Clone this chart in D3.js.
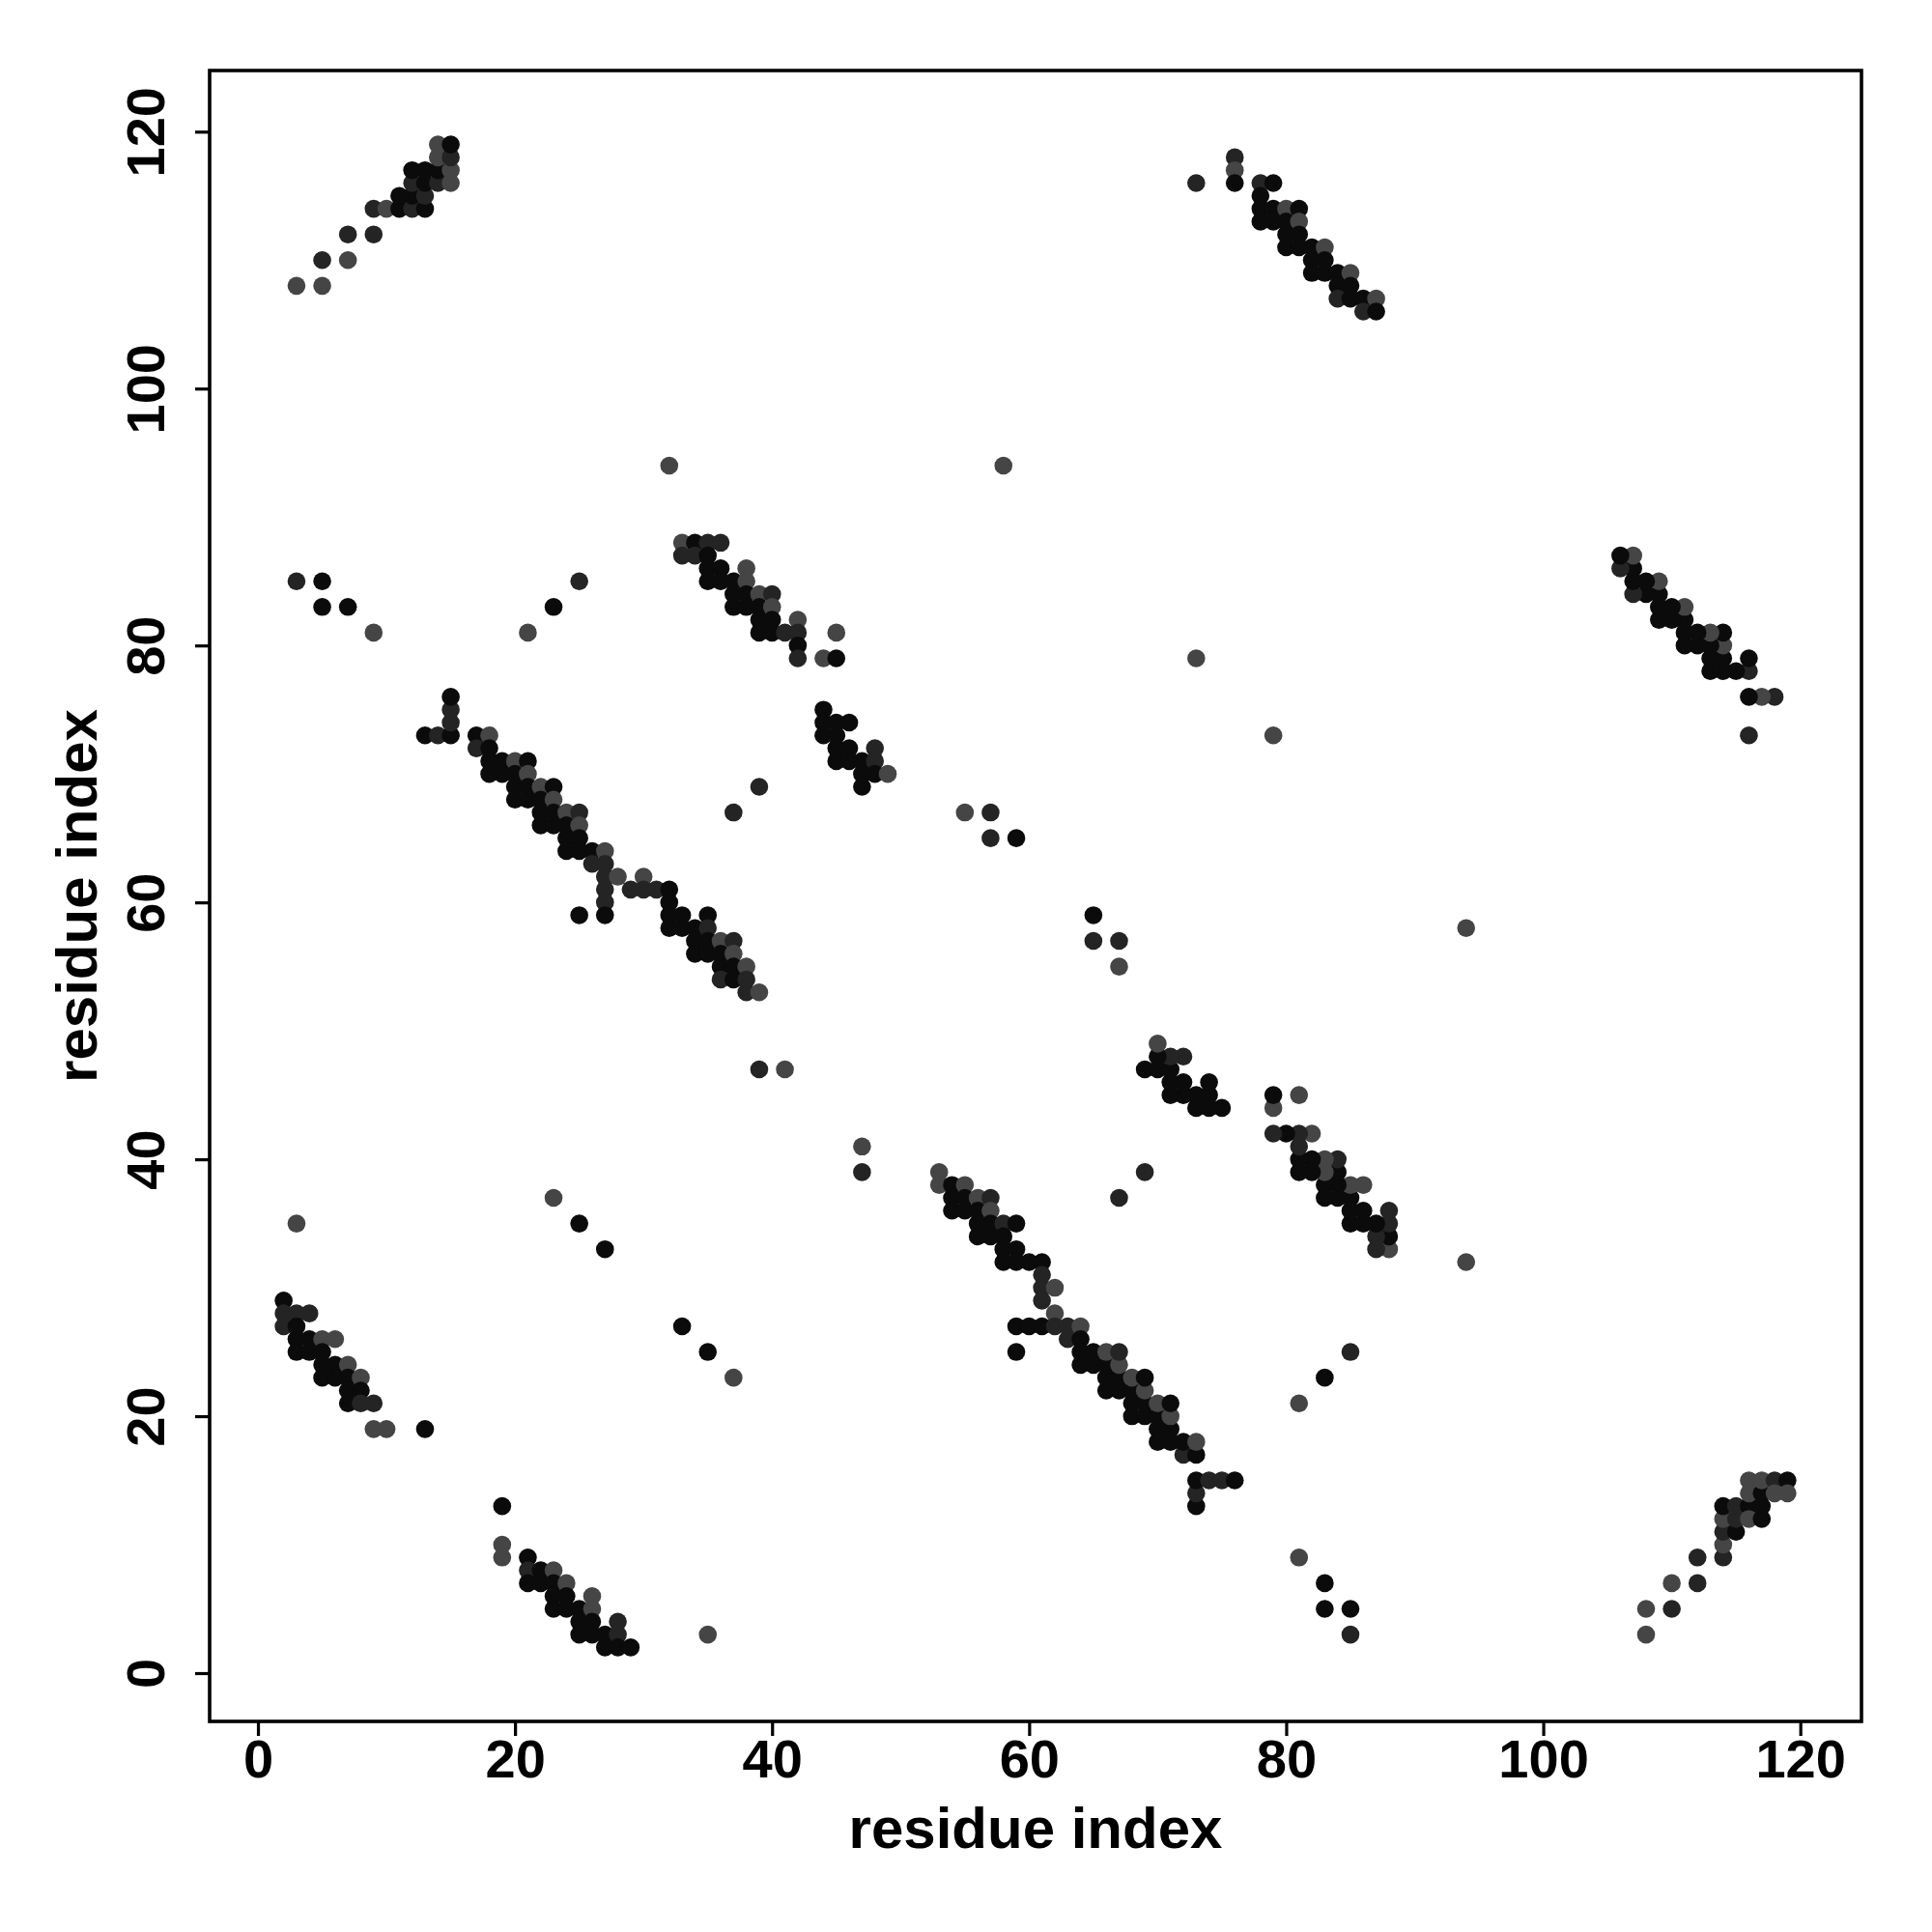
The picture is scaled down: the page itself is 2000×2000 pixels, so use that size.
<!DOCTYPE html>
<html><head><meta charset="utf-8">
<script src="https://cdn.jsdelivr.net/npm/d3@7"></script>
<style>body{margin:0;background:#fff}</style>
</head><body>
<svg id="chart" width="2000" height="2000"></svg>
<script>
// ---- data: [residue i, residue j, shade level 0=black,1=dark,2=grey]
const xTicks = [0, 20, 40, 60, 80, 100, 120];
const yTicks = [0, 20, 40, 60, 80, 100, 120];
const xTitle = "residue index";
const yTitle = "residue index";

const topLeftBlock = [[3,108,2],[5,108,2],[5,110,1],[7,110,2],[7,112,1],[9,112,1],[9,114,1],[10,114,2],[11,114,0],[12,114,1],[13,114,0],[11,115,0],[12,115,0],[13,115,1],[12,116,1],[13,116,0],[14,116,1],[15,116,2],[12,117,0],[13,117,0],[14,117,0],[15,117,2],[14,118,2],[15,118,1],[14,119,2],[15,119,0]];
const bottomRightBlock = [[108,3,2],[108,5,2],[110,5,1],[110,7,2],[112,7,1],[112,9,1],[114,9,1],[114,10,2],[114,11,1],[115,11,0],[114,12,2],[115,12,1],[114,13,0],[115,13,1],[116,13,0],[117,13,0],[116,12,2],[117,12,0],[116,14,2],[117,14,0],[116,15,2],[117,15,2],[118,15,1],[119,15,0],[118,14,2],[119,14,2]];

const topRightBand = [[73,116,1],[76,118,1],[76,117,2],[76,116,0],[78,116,1],[79,116,0],[78,115,0],[78,114,0],[79,114,0],[80,114,2],[81,114,0],[78,113,0],[79,113,0],[80,113,0],[81,113,2],[80,112,0],[81,112,0],[80,111,0],[81,111,0],[82,111,0],[83,111,2],[82,110,0],[83,110,0],[82,109,0],[83,109,0],[84,109,0],[85,109,2],[84,108,0],[85,108,0],[84,107,1],[85,107,0],[86,107,0],[87,107,2],[86,106,1],[87,106,0]];
const rightBand = [[116,73,1],[118,76,1],[117,76,2],[116,76,0],[116,78,1],[116,79,0],[115,78,0],[114,78,0],[114,79,0],[114,80,2],[114,81,0],[113,78,0],[113,79,0],[113,80,0],[113,81,2],[112,80,0],[112,81,0],[111,80,0],[111,81,0],[111,82,0],[111,83,2],[110,82,0],[110,83,0],[109,82,0],[109,83,0],[109,84,0],[109,85,2],[108,84,0],[108,85,0],[107,84,1],[107,85,0],[107,86,0],[107,87,2],[106,86,1],[106,87,0]];

const leftLongBand = [[13,73,0],[14,73,1],[15,73,0],[15,74,1],[15,75,1],[15,76,0],[17,73,0],[18,73,2],[17,72,1],[18,72,0],[18,71,0],[19,71,0],[20,71,2],[21,71,0],[18,70,0],[19,70,0],[20,70,0],[21,70,2],[20,69,0],[21,69,0],[22,69,2],[23,69,0],[20,68,0],[21,68,0],[22,68,0],[23,68,2],[22,67,0],[23,67,0],[24,67,2],[25,67,1],[22,66,0],[23,66,0],[24,66,0],[25,66,2],[24,65,0],[25,65,0],[24,64,0],[25,64,0],[26,64,0],[27,64,2],[26,63,1],[27,63,1],[27,62,1],[28,62,2],[30,62,2],[27,61,1],[29,61,1],[30,61,1],[31,61,1],[32,61,0],[27,60,1],[32,60,0],[25,59,0],[27,59,0],[32,59,0],[33,59,0],[35,59,0],[32,58,0],[33,58,0],[34,58,0],[35,58,1],[34,57,0],[35,57,0],[36,57,2],[37,57,1],[34,56,0],[35,56,0],[36,56,0],[37,56,2],[36,55,0],[37,55,0],[38,55,2],[36,54,1],[37,54,0],[38,54,1],[38,53,1],[39,53,2]];
const centerLongBand = [[53,39,2],[53,38,2],[54,38,0],[55,38,2],[54,37,0],[55,37,0],[56,37,2],[57,37,1],[54,36,0],[55,36,0],[56,36,0],[57,36,2],[56,35,0],[57,35,0],[58,35,1],[59,35,0],[56,34,0],[57,34,0],[58,34,0],[58,33,0],[59,33,0],[58,32,0],[59,32,0],[60,32,0],[61,32,0],[61,31,1],[61,30,1],[62,30,2],[61,29,1],[62,28,2],[59,27,0],[60,27,0],[61,27,0],[62,27,1],[63,27,1],[64,27,2],[59,25,0],[63,26,1],[64,26,0],[64,24,0],[64,25,0],[65,24,0],[65,25,0],[66,22,0],[66,23,0],[66,24,0],[66,25,2],[67,22,0],[67,23,0],[67,24,2],[67,25,1],[68,20,0],[68,21,0],[68,22,0],[68,23,2],[69,20,0],[69,21,0],[69,22,2],[69,23,0],[70,18,0],[70,19,0],[70,20,0],[70,21,2],[71,18,0],[71,19,0],[71,20,2],[71,21,0],[72,17,1],[72,18,0],[73,17,0],[73,18,2],[73,13,0],[73,14,1],[73,15,0],[74,15,1],[75,15,1],[76,15,0]];

const upperMidBand = [[33,88,2],[34,88,0],[35,88,1],[36,88,1],[33,87,1],[34,87,1],[35,87,0],[35,86,0],[36,86,0],[38,86,2],[35,85,0],[36,85,0],[37,85,0],[38,85,2],[37,84,0],[38,84,0],[39,84,2],[40,84,1],[37,83,0],[38,83,0],[39,83,0],[40,83,2],[39,82,0],[40,82,0],[42,82,2],[39,81,0],[40,81,0],[41,81,1],[42,81,1],[42,80,0],[42,79,1],[44,79,2],[45,79,0],[45,81,2]];
const lowerMidBand = [[88,33,2],[88,34,0],[88,35,1],[88,36,1],[87,33,1],[87,34,1],[87,35,0],[86,35,0],[86,36,0],[86,38,2],[85,35,0],[85,36,0],[85,37,0],[85,38,2],[84,37,0],[84,38,0],[84,39,0],[84,40,1],[83,37,0],[83,38,0],[83,39,2],[83,40,2],[82,39,0],[82,40,0],[82,42,2],[81,39,0],[81,40,0],[81,41,1],[81,42,1],[80,42,0],[79,42,1],[79,44,2],[79,45,0],[81,45,2]];

const upperShortBand = [[44,75,0],[44,74,0],[45,74,0],[46,74,0],[44,73,0],[45,73,0],[45,72,0],[46,72,0],[48,72,1],[45,71,0],[46,71,0],[47,71,0],[48,71,1],[47,70,0],[48,70,0],[49,70,2],[47,69,0]];
const lowerShortBand = [[75,44,0],[74,44,0],[74,45,0],[74,46,0],[73,44,0],[73,45,0],[72,45,0],[72,46,0],[72,48,1],[71,45,0],[71,46,0],[71,47,0],[71,48,1],[70,47,0],[70,48,0],[70,49,2],[69,47,0]];

const lowerLeftBand = [[2,29,0],[2,28,1],[3,28,1],[4,28,1],[2,27,1],[3,27,0],[3,26,0],[4,26,0],[5,26,2],[6,26,2],[3,25,0],[4,25,0],[5,25,0],[5,24,0],[6,24,0],[7,24,2],[5,23,0],[6,23,0],[7,23,0],[8,23,2],[7,22,0],[8,22,0],[7,21,0],[8,21,1],[9,21,1],[9,19,2],[10,19,2]];
const bottomBand = [[19,10,2],[19,9,2],[21,9,0],[21,8,1],[22,8,0],[23,8,2],[21,7,0],[22,7,0],[23,7,0],[24,7,2],[23,6,0],[24,6,0],[26,6,2],[23,5,0],[24,5,0],[25,5,0],[26,5,2],[25,4,0],[26,4,0],[28,4,1],[25,3,0],[26,3,0],[27,3,0],[28,3,1],[27,2,0],[28,2,0],[29,2,0]];

const upperIsolated = [[3,85,1],[5,85,0],[5,83,0],[7,83,0],[9,81,2],[21,81,2],[23,83,0],[25,85,1],[32,94,2],[58,94,2],[73,79,2],[37,67,1],[39,69,1],[39,47,1],[41,47,2],[55,67,2],[57,67,1],[57,65,1],[59,65,0],[3,35,2],[13,19,0],[23,37,2],[25,35,0],[27,33,0]];
const lowerIsolated = [[85,3,1],[85,5,0],[83,5,0],[83,7,0],[81,9,2],[81,21,2],[83,23,0],[85,25,1],[94,32,2],[94,58,2],[79,73,2],[67,37,1],[69,39,1],[47,39,1],[47,41,2],[67,55,2],[67,57,1],[65,57,1],[65,59,0],[35,3,2],[19,13,0],[37,23,2],[35,25,0],[33,27,0]];

const shadeColors = ["#0b0b0b", "#242424", "#454545"];

// ---- drawing
const svg = d3.select("#chart");
const plotLeft = 217, plotRight = 1927, plotTop = 73, plotBottom = 1782;
const x = d3.scaleLinear().domain([-3.76, 124.76]).range([plotLeft, plotRight]);
const y = d3.scaleLinear().domain([-3.76, 124.76]).range([plotBottom, plotTop]);
const shade = d3.scaleOrdinal().domain([0, 1, 2]).range(shadeColors);

const allPoints = [].concat(topLeftBlock, bottomRightBlock, topRightBand, rightBand,
  leftLongBand, centerLongBand, upperMidBand, lowerMidBand, upperShortBand, lowerShortBand,
  lowerLeftBand, bottomBand, upperIsolated, lowerIsolated);

svg.append("g").selectAll("circle").data(allPoints).join("circle")
  .attr("cx", d => x(d[0])).attr("cy", d => y(d[1]))
  .attr("r", 9.3).attr("fill", d => shade(d[2]));

const font = "'Liberation Sans', Arial, Helvetica, sans-serif";

const xAxis = svg.append("g").attr("transform", `translate(0,${plotBottom})`)
  .call(d3.axisBottom(x).tickValues(xTicks).tickSize(15).tickFormat(d3.format("d")));
xAxis.select(".domain").remove();
xAxis.selectAll(".tick line").attr("stroke", "#000").attr("stroke-width", 3.2);
xAxis.selectAll(".tick text").attr("y", 58).attr("dy", 0)
  .attr("font-family", font).attr("font-weight", "bold").attr("font-size", 56).attr("fill", "#000");

const yAxis = svg.append("g").attr("transform", `translate(${plotLeft},0)`)
  .call(d3.axisLeft(y).tickValues(yTicks).tickSize(15).tickFormat(d3.format("d")));
yAxis.select(".domain").remove();
yAxis.selectAll(".tick line").attr("stroke", "#000").attr("stroke-width", 3.2);
yAxis.selectAll(".tick text").attr("x", 0).attr("y", -47).attr("dy", 0)
  .attr("text-anchor", "middle").attr("transform", "rotate(-90)")
  .attr("font-family", font).attr("font-weight", "bold").attr("font-size", 56).attr("fill", "#000");

svg.append("rect").attr("x", plotLeft).attr("y", plotTop)
  .attr("width", plotRight - plotLeft).attr("height", plotBottom - plotTop)
  .attr("fill", "none").attr("stroke", "#000").attr("stroke-width", 3.6);

svg.append("text").attr("x", (plotLeft + plotRight) / 2).attr("y", 1913)
  .attr("text-anchor", "middle").attr("font-family", font).attr("font-weight", "bold")
  .attr("font-size", 60).text(xTitle);
svg.append("text").attr("transform", `translate(100,${(plotTop + plotBottom) / 2}) rotate(-90)`)
  .attr("text-anchor", "middle").attr("font-family", font).attr("font-weight", "bold")
  .attr("font-size", 60).text(yTitle);
</script>
</body></html>
